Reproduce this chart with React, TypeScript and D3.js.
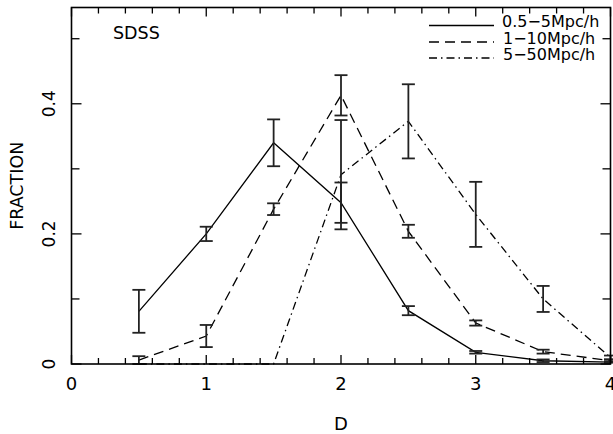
import React, { useEffect, useRef } from 'react';
import * as d3 from 'd3';

// D values along the x axis
const dValues = [0.5, 1, 1.5, 2, 2.5, 3, 3.5, 4];

// fraction per bin, one list per smoothing scale
const frac05to5 = [0.081, 0.2, 0.34, 0.248, 0.082, 0.018, 0.005, 0.003];
const err05to5 = [0.033, 0.011, 0.036, 0.031, 0.007, 0.002, 0.002, 0.001];

const frac1to10 = [0.006, 0.043, 0.238, 0.413, 0.204, 0.063, 0.019, 0.005];
const err1to10 = [0.006, 0.017, 0.009, 0.031, 0.01, 0.004, 0.003, 0.002];

const frac5to50 = [0, 0, 0, 0.291, 0.373, 0.23, 0.1, 0.01];
const err5to50 = [0, 0, 0, 0.084, 0.057, 0.05, 0.02, 0.003];

const legendLabels = ['0.5\u22125Mpc/h', '1\u221210Mpc/h', '5\u221250Mpc/h'];
const xTickLabels = ['0', '1', '2', '3', '4'];
const yTickLabels = ['0', '0.2', '0.4'];

const W = 613;
const H = 434;
const FONT = '"DejaVu Sans", sans-serif';

export default function App() {
    const ref = useRef<SVGSVGElement>(null);

    useEffect(() => {
        const svg = d3.select(ref.current);
        svg.selectAll('*').remove();

        const x = d3.scaleLinear().domain([0, 4]).range([71.5, 610.5]);
        const y = d3.scaleLinear().domain([0, 0.548]).range([364, 7.5]);

        const series = [
            { vals: frac05to5, errs: err05to5, dash: null },
            { vals: frac1to10, errs: err1to10, dash: '10,6' },
            { vals: frac5to50, errs: err5to50, dash: '8,4,1.5,4' },
        ];

        const line = d3.line<number>()
            .x((d, i) => x(dValues[i]))
            .y(d => y(d));

        // curves
        series.forEach(s => {
            svg.append('path')
                .attr('d', line(s.vals))
                .attr('fill', 'none')
                .attr('stroke', '#000')
                .attr('stroke-width', 1.3)
                .attr('stroke-dasharray', s.dash);
        });

        // error bars
        const cap = 6.5;
        series.forEach(s => {
            const g = svg.append('g')
                .attr('stroke', '#222')
                .attr('stroke-width', 1.8);
            s.vals.forEach((v, i) => {
                const e = s.errs[i];
                if (e <= 0) return;
                const cx = x(dValues[i]);
                const y1 = y(v + e);
                const y0 = y(Math.max(0, v - e));
                g.append('line').attr('x1', cx).attr('x2', cx).attr('y1', y1).attr('y2', y0);
                g.append('line').attr('x1', cx - cap).attr('x2', cx + cap).attr('y1', y1).attr('y2', y1);
                g.append('line').attr('x1', cx - cap).attr('x2', cx + cap).attr('y1', y0).attr('y2', y0);
            });
        });

        // frame
        const [x0, x1] = x.range();
        const [yb, yt] = y.range();
        svg.append('rect')
            .attr('x', x0).attr('y', yt)
            .attr('width', x1 - x0).attr('height', yb - yt)
            .attr('fill', 'none')
            .attr('stroke', '#000')
            .attr('stroke-width', 1.6);

        // ticks on all four sides, pointing in
        const ticks = svg.append('g').attr('stroke', '#000').attr('stroke-width', 1.3);
        d3.range(0, 4.001, 0.2).forEach(t => {
            const major = Math.abs(t - Math.round(t)) < 1e-6;
            const len = major ? 9 : 6;
            const px = x(t);
            ticks.append('line').attr('x1', px).attr('x2', px).attr('y1', yb).attr('y2', yb - len);
            ticks.append('line').attr('x1', px).attr('x2', px).attr('y1', yt).attr('y2', yt + len);
        });
        d3.range(0, 0.5001, 0.1).forEach((t, i) => {
            const len = i % 2 === 0 ? 10 : 8;
            const py = y(t);
            ticks.append('line').attr('x1', x0).attr('x2', x0 + len).attr('y1', py).attr('y2', py);
            ticks.append('line').attr('x1', x1).attr('x2', x1 - len).attr('y1', py).attr('y2', py);
        });

        // tick labels
        xTickLabels.forEach(l => {
            svg.append('text')
                .attr('x', x(+l)).attr('y', 390)
                .attr('text-anchor', 'middle')
                .attr('font-family', FONT).attr('font-size', 18)
                .text(l);
        });
        yTickLabels.forEach(l => {
            svg.append('text')
                .attr('transform', `translate(55,${y(+l)}) rotate(-90)`)
                .attr('text-anchor', 'middle')
                .attr('font-family', FONT).attr('font-size', 17)
                .text(l);
        });

        // axis titles
        svg.append('text')
            .attr('x', x(2)).attr('y', 430)
            .attr('text-anchor', 'middle')
            .attr('font-family', FONT).attr('font-size', 18)
            .text('D');
        svg.append('text')
            .attr('transform', `translate(23,${(yb + yt) / 2}) rotate(-90)`)
            .attr('text-anchor', 'middle')
            .attr('font-family', FONT).attr('font-size', 17.5)
            .text('FRACTION');

        svg.append('text')
            .attr('x', 113).attr('y', 39)
            .attr('font-family', FONT).attr('font-size', 17.5)
            .text('SDSS');

        // legend
        const legY = [27, 43.5, 59.5];
        series.forEach((s, i) => {
            svg.append('line')
                .attr('x1', 429).attr('x2', 494)
                .attr('y1', legY[i] - 1.5).attr('y2', legY[i] - 1.5)
                .attr('stroke', '#000')
                .attr('stroke-width', 1.3)
                .attr('stroke-dasharray', s.dash);
            svg.append('text')
                .attr('x', i === 0 ? 502 : 503).attr('y', legY[i])
                .attr('font-family', FONT).attr('font-size', 16)
                .text(legendLabels[i]);
        });
    }, []);

    return (
        <svg ref={ref} width={W} height={H}
            style={{ position: 'absolute', left: 0, top: 0, background: '#fff' }} />
    );
}
